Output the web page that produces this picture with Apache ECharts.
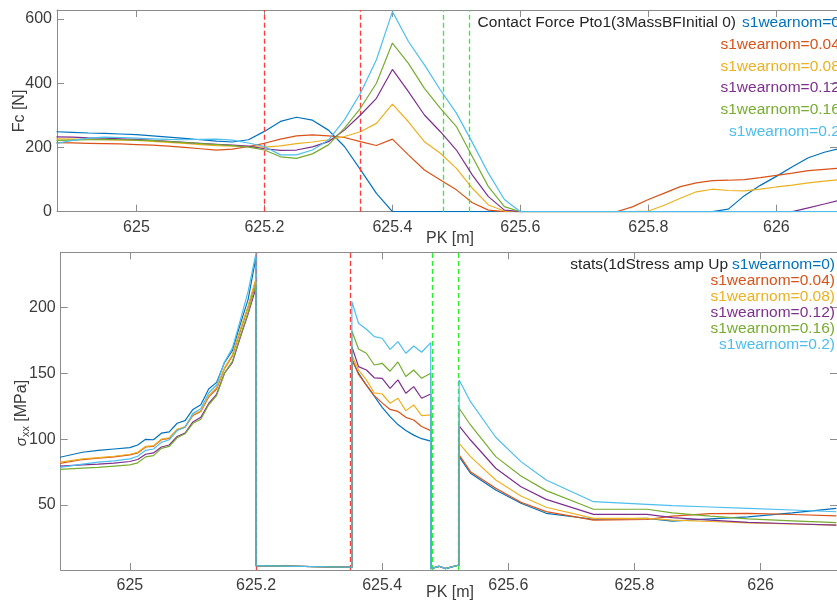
<!DOCTYPE html>
<html>
<head>
<meta charset="utf-8">
<script src="https://cdn.jsdelivr.net/npm/echarts@6/dist/echarts.min.js"></script>
<style>
html,body{margin:0;padding:0;background:#fff;}
#c{width:837px;height:601px;}
</style>
</head>
<body>
<div id="c"></div>
<script>
// ---------- DATA ----------
const seriesNames = ['s1wearnom=0','s1wearnom=0.04','s1wearnom=0.08','s1wearnom=0.12','s1wearnom=0.16','s1wearnom=0.2'];
const colors = ['#0072BD','#D95319','#EDB120','#7E2F8E','#77AC30','#4DBEEE'];

const xTicks = [625, 625.2, 625.4, 625.6, 625.8, 626];
const xTickLabels = ['625','625.2','625.4','625.6','625.8','626'];
const forceTicks = [0, 200, 400, 600];
const stressTicks = [50, 100, 150, 200];
const redMarks = [625.2, 625.352];
const greenMarks = [625.477, 625.522];

// Top chart: contact force [N] vs PK [m]
const pkForce = [624.875,624.9,624.925,624.95,624.975,625,625.025,625.05,625.075,625.1,625.125,625.15,625.175,625.2,625.225,625.25,625.275,625.3,625.325,625.35,625.375,625.4,625.425,625.45,625.475,625.5,625.525,625.55,625.575,625.6,625.625,625.65,625.675,625.7,625.725,625.75,625.775,625.8,625.825,625.85,625.875,625.9,625.925,625.95,625.975,626,626.025,626.05,626.075,626.1];
const forceW0   = [249,247,245,244,242,240,236,232,228,224,220,217,224,250,281,294,285,254,203,131,57,0,0,0,0,0,0,0,0,0,0,0,0,0,0,0,0,0,0,0,0,0,8,50,82,110,140,168,185,197];
const forceW004 = [215,214,213,212,211,209,207,204,200,196,192,195,203,213,226,236,239,236,231,218,206,226,177,130,99,68,28,5,0,0,0,0,0,0,0,0,15,38,58,78,90,97,98,100,106,113,120,128,132,136];
const forceW008 = [227,226,225,224,223,222,219,216,213,209,206,204,203,201,205,212,217,224,234,249,275,335,280,218,182,135,73,21,2,0,0,0,0,0,0,0,0,2,20,42,62,70,66,65,70,77,83,90,95,100];
const forceW012 = [233,232,230,229,227,225,222,219,216,213,210,207,204,196,191,192,202,218,254,301,353,443,374,301,249,192,114,47,5,0,0,0,0,0,0,0,0,0,0,0,0,0,0,0,0,0,0,12,24,36];
const forceW016 = [222,223,224,225,224,223,221,218,215,212,209,206,201,192,171,166,180,208,260,322,400,525,462,384,322,265,171,78,16,0,0,0,0,0,0,0,0,0,0,0,0,0,0,0,0,0,0,0,0,0];
const forceW020 = [213,222,229,232,231,229,227,225,224,225,226,223,214,203,177,177,192,223,286,369,473,623,530,457,379,307,215,120,38,0,0,0,0,0,0,0,0,0,0,0,0,0,0,0,0,0,0,0,0,0];

// Bottom chart: stress amplitude [MPa] vs PK [m]
const pkStress = [624.889,624.925,624.95,624.975,625.0,625.0125,625.025,625.0375,625.05,625.0625,625.075,625.0875,625.1,625.1125,625.125,625.1375,625.15,625.1625,625.175,625.1875,625.2,
  625.2,625.352,
  625.352,625.3625,625.375,625.3875,625.4,625.4125,625.425,625.4375,625.45,625.4625,625.477,
  625.477,625.49,625.5,625.522,
  625.522,625.54,625.58,625.62,625.66,625.735,625.82,625.86,625.92,625.98,626.05,626.12];
const stressW0   = [86.2,90,91.5,92.5,93.5,95.5,99.8,99.5,104.5,105.5,112,114,122.5,126,138,143,158,167,187,206,238,
  4,2.8,
  160,150,141,132.5,124,117,111,106.5,103,100.3,98.5,
  1.8,3.5,1.8,4.5,
  86.7,74.1,61.4,51.3,43.7,39.2,39.9,37.8,39.5,41,44,47.5];
const stressW004 = [81.6,84.5,85.5,86.5,88,89.5,94,94.5,99.5,100.5,107,109,118,121,132,138,153.5,163,182,200,221,
  4,2.8,
  161.3,149,141,133,127.5,122.5,121,116.5,114.5,109.5,106.4,
  1.8,3.5,1.8,4.5,
  88,75.3,62.7,52.1,45,38.6,39,41.5,43.5,43.7,42.8,41.7];
const stressW008 = [82.5,85,86,87,88.5,90,94.5,95,100,101,107.5,109.5,118.5,121.5,133,139,154,164,183,201,222,
  4,2.8,
  163.8,152.4,144.9,135,134.2,127.2,131,121.6,125.9,117.8,118.3,
  1.8,3.5,1.8,4.5,
  96.8,86.7,69,56.8,48.3,39.9,39.9,38.5,37.5,36.5,35.6,34.8];
const stressW012 = [79.5,80.5,81,81.8,83,84.5,88.5,89.5,94,95.5,102,104.5,113,116.5,127,134,150,158,177,195,215,
  4,2.8,
  170.1,155,152.4,146.5,146.1,138.5,144.9,134.8,139.8,131,134.2,
  1.8,3.5,1.8,4.5,
  110,99.3,77.9,63.9,54.3,42.9,42.9,40.5,38.5,36.8,35.8,34.8];
const stressW016 = [77,78,78.5,79.5,80.5,82,86.5,87.5,93,94.5,101,104,112,115,126,133,150,159,178,196,218,
  4,2.8,
  182,168.4,165.1,156.2,157.5,151.5,158.5,147.5,152.4,146.1,149.9,
  1.8,3.5,1.8,4.5,
  123.4,110.7,86.7,72,60.9,46.8,46.8,44,41.5,39.5,38,36.6];
const stressW020 = [78.5,81,82.5,83.5,85,87,91.5,92.5,97.5,99.5,106.5,109,119.5,123,135,141,158.5,169,190,212,241,
  4,2.8,
  204.3,187.9,183.3,177.7,176.5,168.1,173.9,165.1,170.6,165.9,173.2,
  1.8,3.5,1.8,4.5,
  144.9,128.4,101.4,82.9,69,52.5,50.5,49.5,48.5,47.5,46.2,44.9];

const forceSeries = [forceW0, forceW004, forceW008, forceW012, forceW016, forceW020];
const stressSeries = [stressW0, stressW004, stressW008, stressW012, stressW016, stressW020];

// ---------- CHART ----------
const FONT = "'Liberation Sans', Arial, Helvetica, sans-serif";
const AXC = '#8c8c8c';
const TXC = '#3c3c3c';
const chart = echarts.init(document.getElementById('c'), null, {renderer: 'canvas'});

function zip(xs, ys) { return xs.map((x, i) => [x, ys[i]]); }

function xAxisPair(gi, min, max) {
  return [
    {type:'value', gridIndex:gi, min:min, max:max, position:'bottom',
     axisLine:{show:true, onZero:false, lineStyle:{color:AXC, width:1}},
     axisTick:{show:true, inside:true, length:7, customValues:xTicks, lineStyle:{color:AXC}},
     axisLabel:{show:true, customValues:xTicks, formatter:(v)=>{const i=xTicks.findIndex(t=>Math.abs(t-v)<1e-6);return i>=0?xTickLabels[i]:'';}, color:TXC, fontSize:16, fontFamily:FONT, margin:8},
     splitLine:{show:false}},
    {type:'value', gridIndex:gi, min:min, max:max, position:'top',
     axisLine:{show:true, onZero:false, lineStyle:{color:AXC, width:1}},
     axisTick:{show:true, inside:true, length:7, customValues:xTicks, lineStyle:{color:AXC}},
     axisLabel:{show:false}, splitLine:{show:false}}
  ];
}
function yAxisPair(gi, min, max, ticks) {
  return [
    {type:'value', gridIndex:gi, min:min, max:max, position:'left',
     axisLine:{show:true, onZero:false, lineStyle:{color:AXC, width:1}},
     axisTick:{show:true, inside:true, length:7, customValues:ticks, lineStyle:{color:AXC}},
     axisLabel:{show:true, customValues:ticks, color:TXC, fontSize:16, fontFamily:FONT, margin:5},
     splitLine:{show:false}},
    {type:'value', gridIndex:gi, min:min, max:max, position:'right',
     axisLine:{show:true, onZero:false, lineStyle:{color:AXC, width:1}},
     axisTick:{show:true, inside:true, length:7, customValues:ticks, lineStyle:{color:AXC}},
     axisLabel:{show:false}, splitLine:{show:false}}
  ];
}

const series = [];
function markSeries(xi, yi) {
  series.push({type:'line', xAxisIndex:xi, yAxisIndex:yi, data:[], z:1, silent:true,
    markLine:{silent:true, symbol:['none','none'], animation:false, label:{show:false},
      data: redMarks.map(v=>({xAxis:v, lineStyle:{color:'#ff3b3b', type:[5,3], width:1.3}}))
        .concat(greenMarks.map(v=>({xAxis:v, lineStyle:{color:'#2bf02b', type:[5,3], width:1.3}})))}});
}
markSeries(0, 0);
markSeries(2, 2);
forceSeries.forEach((arr, i) => {
  series.push({type:'line', name:seriesNames[i], xAxisIndex:0, yAxisIndex:0, data:zip(pkForce, arr),
    showSymbol:false, symbol:'none', z:2+i, lineStyle:{color:colors[i], width:1.2}, itemStyle:{color:colors[i]}});
});
stressSeries.forEach((arr, i) => {
  series.push({type:'line', name:seriesNames[i], xAxisIndex:2, yAxisIndex:2, data:zip(pkStress, arr),
    showSymbol:false, symbol:'none', z:2+i, lineStyle:{color:colors[i], width:1.2}, itemStyle:{color:colors[i]}});
});

const legendFont = 15.5;
const graphics = [];
function txt(x, y, text, color, align, extra) {
  graphics.push(Object.assign({type:'text', x:x, y:y, silent:true, z:100,
    style:{text:text, fill:color, font: legendFont + 'px ' + FONT, textAlign:align, textVerticalAlign:'middle'}}, extra||{}));
}
// top legend texts
txt(736, 23, 'Contact Force Pto1(3MassBFInitial 0)', '#262626', 'right');
txt(845, 23, seriesNames[0] + ')', colors[0], 'right');
for (let i = 1; i < 6; i++) txt(845, 23 + i * 21.7, seriesNames[i] + ')', colors[i], 'right');
// bottom legend texts
txt(728, 265, 'stats(1dStress amp Up', '#262626', 'right');
txt(835, 265, seriesNames[0] + ')', colors[0], 'right');
for (let i = 1; i < 6; i++) txt(835, 265 + i * 16, seriesNames[i] + ')', colors[i], 'right');
// axis titles
graphics.push({type:'text', x:450, y:239, silent:true, style:{text:'PK [m]', fill:TXC, font:'16px ' + FONT, textAlign:'center', textVerticalAlign:'middle'}});
graphics.push({type:'text', x:450, y:593, silent:true, style:{text:'PK [m]', fill:TXC, font:'16px ' + FONT, textAlign:'center', textVerticalAlign:'middle'}});
graphics.push({type:'text', x:20, y:111, rotation:Math.PI/2, silent:true, style:{text:'Fc [N]', fill:TXC, font:'16px ' + FONT, textAlign:'center', textVerticalAlign:'middle'}});
graphics.push({type:'text', x:22, y:413, rotation:Math.PI/2, silent:true, style:{text:'{g|σ}{s|xx}{n| [MPa]}', fill:TXC, textAlign:'center', textVerticalAlign:'middle',
  rich:{g:{fontFamily:FONT, fontSize:15, fontStyle:'italic', fill:TXC, color:TXC}, s:{fontFamily:FONT, fontSize:11, fill:TXC, color:TXC, padding:[8,0,0,0]}, n:{fontFamily:FONT, fontSize:16, fill:TXC, color:TXC}}}});

chart.setOption({
  animation:false,
  backgroundColor:'#ffffff',
  grid:[
    {left:57, top:10, width:782, height:201.7, containLabel:false},
    {left:60.7, top:252.3, width:778.3, height:317.7, containLabel:false}
  ],
  xAxis: xAxisPair(0, 624.8758, 626.0948).concat(xAxisPair(1, 624.8904, 626.121)),
  yAxis: yAxisPair(0, 0, 628, forceTicks).concat(yAxisPair(1, 0.7, 241.7, stressTicks)),
  series: series,
  graphic: graphics
});
</script>
</body>
</html>
